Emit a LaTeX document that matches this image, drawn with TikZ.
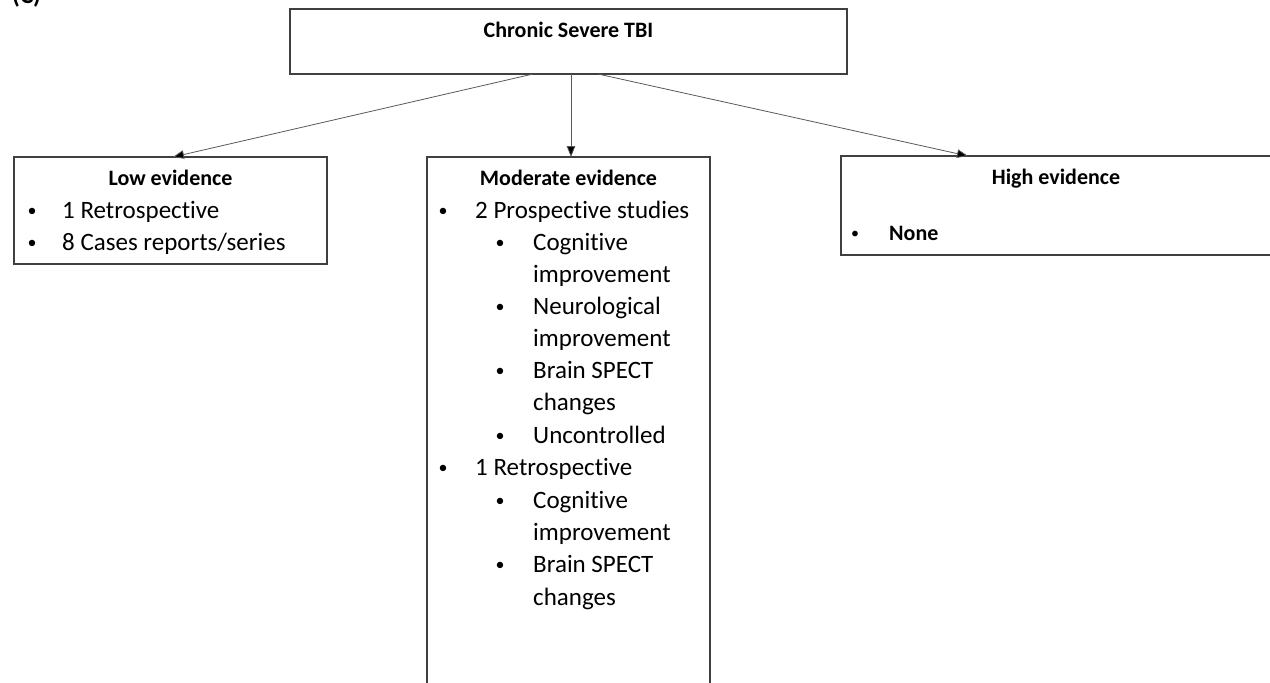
\documentclass[tikz,border=0pt]{standalone}
\usepackage{fontspec}
\setmainfont[Ligatures=CommonOff]{Carlito}
\usetikzlibrary{arrows.meta}
\tikzset{
  box/.style={draw=black!75, line width=1.4pt, fill=none, inner sep=0pt, outer sep=0pt},
  conn/.style={draw=black!65, line width=0.8pt, -{Triangle[length=11pt,width=8.5pt,fill=black]}},
  head/.style={anchor=base, font=\fontsize{22}{26}\selectfont\bfseries, inner sep=0pt},
  body/.style={anchor=base west, font=\fontsize{25}{30}\selectfont, inner sep=0pt},
  bul/.style={anchor=base, font=\fontsize{18}{22}\selectfont, inner sep=0pt},
}
\begin{document}
\begin{tikzpicture}[x=1pt,y=-1pt]
\useasboundingbox (0,0) rectangle (1270,683);
\clip (0,0) rectangle (1270,683);
% panel label (cut at top)
\node[anchor=base west, font=\fontsize{25}{30}\selectfont\bfseries, inner sep=0pt] (lbl) at (12,3) {(C)};
% boxes
\node[box, minimum width=557pt, minimum height=65pt] (top) at (568.5,41.5) {};
\node[box, minimum width=313pt, minimum height=107pt] (low) at (170.5,210.5) {};
\node[box, minimum width=283pt, minimum height=543pt] (mod) at (568.5,428.5) {};
\node[box, minimum width=431pt, minimum height=99pt] (high) at (1056.5,205.5) {};
% connectors
\draw[conn] ([xshift=-35.5pt]top.south) -- ([xshift=2.5pt]low.north);
\draw[conn] ([xshift=2.5pt]top.south) -- ([xshift=2.5pt]mod.north);
\draw[conn] ([xshift=29.5pt]top.south) -- ([xshift=-88.5pt]high.north);
% top text
\node[head] (toph) at (568.5,37.5) {Chronic Severe TBI};
% low box text
\node[head] (lowh) at (170.5,185) {Low evidence};
\node[bul] (lb1) at (32,216) {•};
\node[body] (lt1) at (62,218) {1 Retrospective};
\node[bul] (lb2) at (32,248) {•};
\node[body] (lt2) at (62,250) {8 Cases reports/series};
% moderate box text
\node[head] (modh) at (568.5,185) {Moderate evidence};
\node[bul] (mb1) at (443,216) {•};
\node[body] (mt1) at (475,218) {2 Prospective studies};
\node[bul] (mb2) at (500,248) {•};
\node[body] (mt2) at (533,250) {Cognitive};
\node[body] (mt3) at (533,282) {improvement};
\node[bul] (mb4) at (500,312) {•};
\node[body] (mt4) at (533,314) {Neurological};
\node[body] (mt5) at (533,346.5) {improvement};
\node[bul] (mb6) at (500,376.5) {•};
\node[body] (mt6) at (533,378.5) {Brain SPECT};
\node[body] (mt7) at (533,410.5) {changes};
\node[bul] (mb8) at (500,441) {•};
\node[body] (mt8) at (533,443) {Uncontrolled};
\node[bul] (mb9) at (443,473.5) {•};
\node[body] (mt9) at (475,475.5) {1 Retrospective};
\node[bul] (mb10) at (500,506) {•};
\node[body] (mt10) at (533,508) {Cognitive};
\node[body] (mt11) at (533,540) {improvement};
\node[bul] (mb12) at (500,570.5) {•};
\node[body] (mt12) at (533,572.5) {Brain SPECT};
\node[body] (mt13) at (533,605) {changes};
% high box text
\node[head] (highh) at (1056,184) {High evidence};
\node[anchor=base, font=\fontsize{16}{20}\selectfont, inner sep=0pt] (hb1) at (855,238.5) {•};
\node[anchor=base west, font=\fontsize{22}{26}\selectfont\bfseries, inner sep=0pt] (ht1) at (889,240) {None};
\end{tikzpicture}
\end{document}
